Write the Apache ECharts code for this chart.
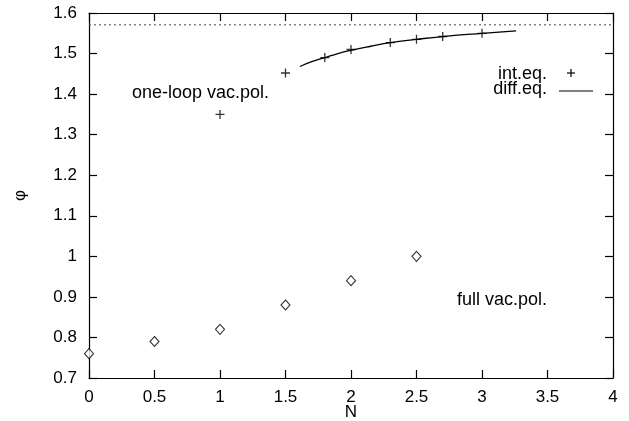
<!DOCTYPE html>
<html>
<head>
<meta charset="utf-8">
<script src="https://cdn.jsdelivr.net/npm/echarts@6/dist/echarts.min.js"></script>
<style>
  html, body { margin: 0; padding: 0; background: #fff; }
  #chart { width: 629px; height: 421px; }
</style>
</head>
<body>
<div id="chart"></div>
<script>
// int.eq. points (one-loop vac.pol.)
const intEqN = [1.0, 1.5, 1.8, 2.0, 2.3, 2.5, 2.7, 3.0]
const intEqPhi = [1.35, 1.452, 1.49, 1.51, 1.527, 1.535, 1.542, 1.55]

// diff.eq. curve
const diffEqN = [1.61, 1.7, 1.8, 1.9, 2.0, 2.15, 2.3, 2.5, 2.7, 3.0, 3.26]
const diffEqPhi = [1.468, 1.48, 1.49, 1.5, 1.508, 1.518, 1.527, 1.535, 1.542, 1.55, 1.556]

// full vac.pol. points
const fullN = [0, 0.5, 1.0, 1.5, 2.0, 2.5]
const fullPhi = [0.76, 0.79, 0.82, 0.88, 0.94, 1.0]

// asymptote pi/2
const limitN = [0, 4]
const limitPhi = [Math.PI / 2, Math.PI / 2]

const zip = (xs, ys) => xs.map((x, i) => [x, ys[i]])

const font = '"Liberation Sans", Arial, Helvetica, sans-serif'
const plusPath = 'path://M0,5L10,5M5,0L5,10'

const chart = echarts.init(document.getElementById('chart'))

function axisLine() {
  return { show: true, onZero: false, lineStyle: { color: '#000', width: 1.2 } }
}
function axisTick() {
  return { show: true, inside: true, length: 8, lineStyle: { color: '#000', width: 1.2 } }
}
function tickLabel(margin) {
  return { color: '#000', fontSize: 17, margin, fontFamily: font, formatter: v => String(+v.toFixed(1)) }
}

chart.setOption({
  animation: false,
  backgroundColor: '#fff',
  textStyle: { fontFamily: font },
  grid: { left: 89, right: 16, top: 13, bottom: 43, containLabel: false, outerBoundsMode: 'none' },
  xAxis: [
    {
      type: 'value', min: 0, max: 4, interval: 0.5,
      name: 'N', nameLocation: 'middle', nameGap: 26, nameMoveOverlap: false,
      nameTextStyle: { fontSize: 17, color: '#000', fontFamily: font },
      axisLine: axisLine(), axisTick: axisTick(), axisLabel: tickLabel(11),
      splitLine: { show: false }
    },
    {
      type: 'value', min: 0, max: 4, interval: 0.5, position: 'top',
      axisLine: axisLine(), axisTick: axisTick(), axisLabel: { show: false }, splitLine: { show: false }
    }
  ],
  yAxis: [
    {
      type: 'value', min: 0.7, max: 1.6, interval: 0.1,
      name: 'φ', nameLocation: 'middle', nameGap: 60, nameRotate: 90, nameMoveOverlap: false,
      nameTextStyle: { fontSize: 17, color: '#000', fontFamily: font },
      axisLine: axisLine(), axisTick: axisTick(), axisLabel: tickLabel(12),
      splitLine: { show: false }
    },
    {
      type: 'value', min: 0.7, max: 1.6, interval: 0.1, position: 'right',
      axisLine: axisLine(), axisTick: axisTick(), axisLabel: { show: false }, splitLine: { show: false }
    }
  ],
  graphic: [
    { type: 'text', left: 132, top: 84, style: { text: 'one-loop vac.pol.', font: '18px ' + font, fill: '#000' } },
    { type: 'text', left: 457, top: 291, style: { text: 'full vac.pol.', font: '18px ' + font, fill: '#000' } },
    // legend
    { type: 'text', right: 82, top: 65, style: { text: 'int.eq.', font: '18px ' + font, fill: '#000' } },
    { type: 'text', right: 82, top: 80, style: { text: 'diff.eq.', font: '18px ' + font, fill: '#000' } },
    { type: 'line', shape: { x1: 567, y1: 73, x2: 575, y2: 73 }, style: { stroke: '#000', lineWidth: 1.2 } },
    { type: 'line', shape: { x1: 571, y1: 69, x2: 571, y2: 77 }, style: { stroke: '#000', lineWidth: 1.2 } },
    { type: 'line', shape: { x1: 559, y1: 91, x2: 593, y2: 91 }, style: { stroke: '#000', lineWidth: 1.2 } }
  ],
  series: [
    {
      name: 'limit', type: 'line', data: zip(limitN, limitPhi),
      symbol: 'none', silent: true,
      lineStyle: { color: '#444', width: 1, type: [2, 3] }
    },
    {
      name: 'diff.eq.', type: 'line', data: zip(diffEqN, diffEqPhi),
      symbol: 'none', smooth: true,
      lineStyle: { color: '#000', width: 1.3 }
    },
    {
      name: 'int.eq.', type: 'scatter', data: zip(intEqN, intEqPhi),
      symbol: plusPath, symbolSize: 9,
      itemStyle: { color: 'none', borderColor: '#000', borderWidth: 1.3 }
    },
    {
      name: 'full vac.pol.', type: 'scatter', data: zip(fullN, fullPhi),
      symbol: 'diamond', symbolSize: [9, 10],
      itemStyle: { color: '#fff', borderColor: '#000', borderWidth: 1.1 }
    }
  ]
})
</script>
</body>
</html>
